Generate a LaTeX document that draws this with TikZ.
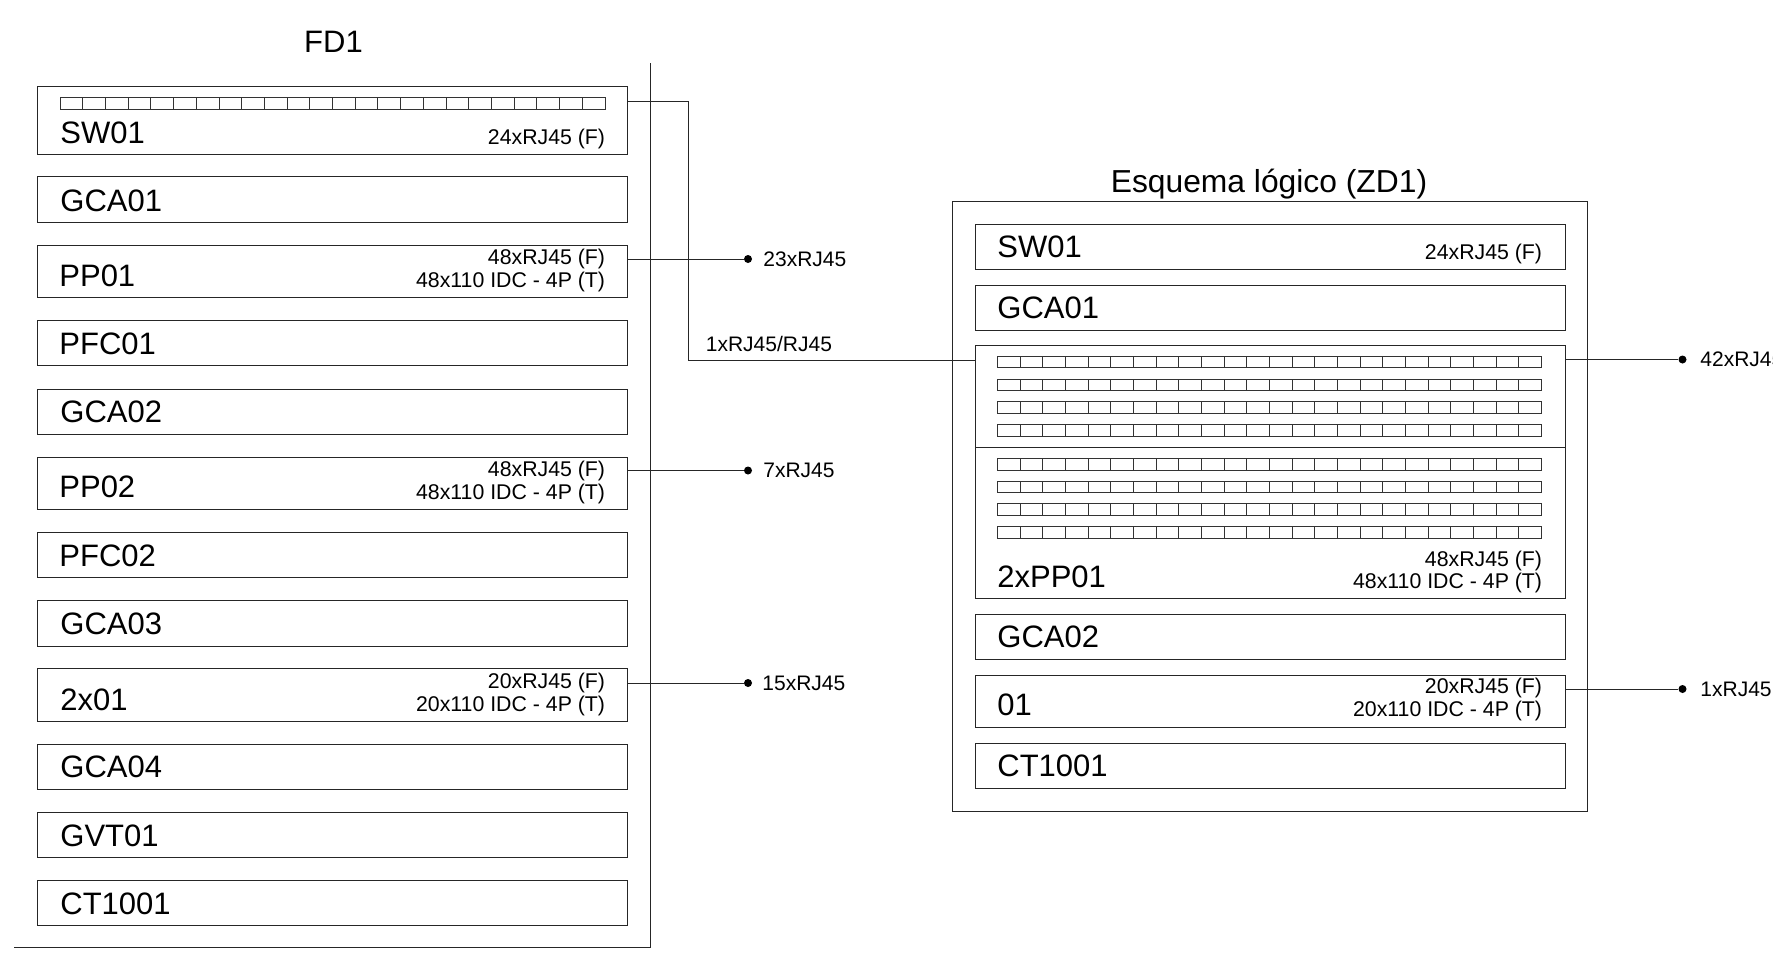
\documentclass[tikz,border=0pt]{standalone}
\usepackage{fontspec}
\setmainfont{Liberation Sans}
\usetikzlibrary{fit}
\tikzset{
  x=0.5pt,y=-0.5pt,
  panel/.style={draw=black!85,line width=0.5pt,inner sep=0pt,outer sep=0pt,fill=none},
  wire/.style={draw=black!85,line width=0.5pt},
  cellrow/.style={draw=black!80,line width=0.45pt},
  big/.style={inner sep=0pt,anchor=base west,font=\fontsize{15.5}{18}\selectfont},
  small/.style={inner sep=0pt,anchor=base east,font=\fontsize{10.65}{13}\selectfont},
  tag/.style={inner sep=0pt,anchor=west,font=\fontsize{10.5}{13}\selectfont},
  heading/.style={inner sep=0pt,anchor=base,font=\fontsize{15.5}{18}\selectfont},
  dot/.style={circle,fill=black,draw=none,inner sep=0pt,minimum size=4pt},
}
\newcommand{\portrow}[4]{%
  \draw[cellrow] (#1,#2) rectangle (#3,#4);
  \foreach \i in {1,...,23}{
    \pgfmathsetmacro{\xx}{#1+(#3-#1)*\i/24}
    \draw[cellrow] (\xx,#2) -- (\xx,#4);
  }%
}
\newcommand{\panelbox}[5]{\node[panel,fit={(#2,#3)(#4,#5)}] (#1) {};}
\begin{document}
\begin{tikzpicture}
\clip (0,0) rectangle (1773,955);
\useasboundingbox (0,0) rectangle (1773,955);
% left rack
\coordinate (walltop) at (650,63);
\coordinate (wallcorner) at (650,947.5);
\coordinate (wallend) at (14,947.5);
\draw[wire] (walltop) -- (wallcorner) -- (wallend);
\node[heading] (fdtitle) at (333.5,52) {FD1};
\panelbox{lsw}{37.5}{86}{627.5}{154}
\panelbox{lgcaa}{37.5}{176.5}{627.5}{222}
\panelbox{lpp}{37.5}{245}{627.5}{297.5}
\panelbox{lpfca}{37.5}{320}{627.5}{365}
\panelbox{lgcab}{37.5}{389}{627.5}{434}
\panelbox{lppb}{37.5}{457}{627.5}{509}
\panelbox{lpfcb}{37.5}{532}{627.5}{577.5}
\panelbox{lgcac}{37.5}{600}{627.5}{646}
\panelbox{ltwo}{37.5}{668}{627.5}{721}
\panelbox{lgcad}{37.5}{744}{627.5}{789}
\panelbox{lgvt}{37.5}{812}{627.5}{857}
\panelbox{lct}{37.5}{880.5}{627.5}{925.5}
\portrow{60}{97.5}{605}{109}
\node[big] (tsw) at (60,143) {SW01};
\node[small] (tswp) at (605.5,144) {24xRJ45 (F)};
\node[big] (tgcaa) at (60,211.5) {GCA01};
\node[big] (tpp) at (59,286) {PP01};
\node[small] (tppa) at (605.5,264) {48xRJ45 (F)};
\node[small] (tppb) at (605.5,287) {48x110 IDC - 4P (T)};
\node[big] (tpfca) at (59,354) {PFC01};
\node[big] (tgcab) at (60,422) {GCA02};
\node[big] (tppc) at (59,497.5) {PP02};
\node[small] (tppd) at (605.5,476) {48xRJ45 (F)};
\node[small] (tppe) at (605.5,499) {48x110 IDC - 4P (T)};
\node[big] (tpfcb) at (59,566) {PFC02};
\node[big] (tgcac) at (60,634) {GCA03};
\node[big] (ttwo) at (60,710) {2x01};
\node[small] (ttwoa) at (605.5,688) {20xRJ45 (F)};
\node[small] (ttwob) at (605.5,711) {20x110 IDC - 4P (T)};
\node[big] (tgcad) at (60,777) {GCA04};
\node[big] (tgvt) at (60,846) {GVT01};
\node[big] (tct) at (60,914) {CT1001};
% right cabinet
\node[heading,font=\fontsize{15.9}{18}\selectfont] (ztitle) at (1269,192) {Esquema lógico (ZD1)};
\panelbox{zone}{952}{201}{1587.5}{811}
\panelbox{rsw}{975}{224}{1565}{269}
\panelbox{rgcaa}{975}{285}{1565}{330}
\panelbox{rpp}{975}{345}{1565}{598}
\coordinate (divl) at (975,447.5);
\draw[wire] (divl) -- (divl -| rpp.east);
\panelbox{rgcab}{975}{614}{1565}{659}
\panelbox{rone}{975}{675}{1565}{727}
\panelbox{rct}{975}{743}{1565}{788}
\portrow{997.5}{356}{1541.5}{367.5}
\portrow{997.5}{379}{1541.5}{390.5}
\portrow{997.5}{401.5}{1541.5}{413}
\portrow{997.5}{424.5}{1541.5}{436}
\portrow{997.5}{458.5}{1541.5}{470}
\portrow{997.5}{481}{1541.5}{492.5}
\portrow{997.5}{503.5}{1541.5}{515}
\portrow{997.5}{526.5}{1541.5}{538}
\node[big] (rtsw) at (997,257.5) {SW01};
\node[small] (rtswp) at (1542.5,259) {24xRJ45 (F)};
\node[big] (rtgcaa) at (997,318.5) {GCA01};
\node[big] (rtpp) at (997,587) {2xPP01};
\node[small] (rtppa) at (1542.5,566) {48xRJ45 (F)};
\node[small] (rtppb) at (1542.5,588.5) {48x110 IDC - 4P (T)};
\node[big] (rtgcab) at (997,647) {GCA02};
\node[big] (rtone) at (997,715) {01};
\node[small] (rtonea) at (1542.5,693.5) {20xRJ45 (F)};
\node[small] (rtoneb) at (1542.5,716.5) {20x110 IDC - 4P (T)};
\node[big] (rtct) at (997,776) {CT1001};
% connectors
\node[dot] (dppa) at (748,259) {};
\node[dot] (dppb) at (748,470.5) {};
\node[dot] (dtwo) at (748,683) {};
\node[dot] (dzpp) at (1682.5,359.5) {};
\node[dot] (dzone) at (1682.5,689) {};
\coordinate (swout) at (627.5,101);
\coordinate (bendu) at (688,101);
\coordinate (bendl) at (688,360);
\draw[wire] (swout) -- (bendu) -- (bendl) -- (bendl -| rpp.west);
\draw[wire] (lpp.east |- dppa) -- (dppa);
\draw[wire] (lppb.east |- dppb) -- (dppb);
\draw[wire] (ltwo.east |- dtwo) -- (dtwo);
\draw[wire] (rpp.east |- dzpp) -- (dzpp);
\draw[wire] (rone.east |- dzone) -- (dzone);
\node[tag] (lswl) at (705.5,344) {1xRJ45/RJ45};
\node[tag] (lppa) at (763,259) {23xRJ45};
\node[tag] (lppc) at (763,470.5) {7xRJ45};
\node[tag] (ltw) at (762,683) {15xRJ45};
\node[tag] (lzpp) at (1700,359.5) {42xRJ45};
\node[tag] (lzon) at (1700,689) {1xRJ45};
\end{tikzpicture}
\end{document}
